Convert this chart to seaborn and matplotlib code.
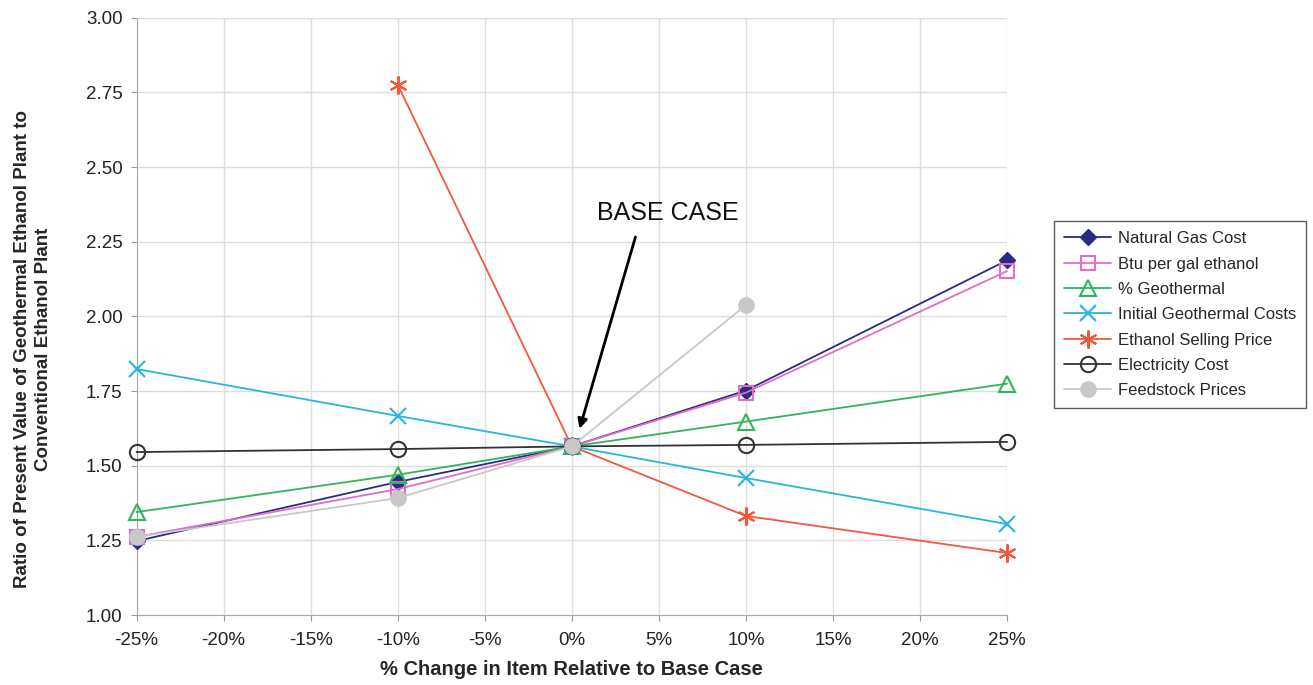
import numpy as np
import pandas as pd
import seaborn as sns
import matplotlib.pyplot as plt
from matplotlib.ticker import FuncFormatter, MultipleLocator

# % change in each item relative to the base case
pct_change = [-25, -10, 0, 10, 25]

natural_gas = [1.248, 1.446, 1.565, 1.752, 2.188]
btu_per_gal = [1.262, 1.422, 1.565, 1.745, 2.152]
pct_geothermal = [1.345, 1.470, 1.565, 1.648, 1.775]
initial_geo_costs = [1.824, 1.667, 1.565, 1.459, 1.305]
ethanol_price = [np.nan, 2.776, 1.565, 1.332, 1.208]
electricity = [1.546, 1.556, 1.565, 1.570, 1.580]
feedstock = [1.262, 1.392, 1.565, 2.038, np.nan]

series_names = ["Natural Gas Cost", "Btu per gal ethanol", "% Geothermal",
                "Initial Geothermal Costs", "Ethanol Selling Price",
                "Electricity Cost", "Feedstock Prices"]
series_values = [natural_gas, btu_per_gal, pct_geothermal, initial_geo_costs,
                 ethanol_price, electricity, feedstock]

# colour, marker, size, filled?
styles = [
    ("#2b2a86", "D", 8.5, True),
    ("#df6ec8", "s", 10, False),
    ("#2fb55a", "^", 11, False),
    ("#27b6dc", "x", 11, False),
    ("#f2583a", (6, 2, 0), 13, False),
    ("#333333", "o", 11, False),
    ("#c8c8c8", "o", 11, True),
]

sns.set_style("whitegrid")
plt.rcParams['font.family'] = ['Liberation Sans', 'DejaVu Sans']

fig = plt.figure(figsize=(13.13, 6.85), dpi=100)
ax = fig.add_axes([0.104, 0.102, 0.663, 0.872])

for name, vals, (col, mk, ms, filled) in zip(series_names, series_values, styles):
    df = pd.DataFrame({"x": pct_change, "y": vals}).dropna()
    sns.lineplot(data=df, x="x", y="y", ax=ax, color=col, lw=1.3,
                 marker=mk, markersize=ms,
                 markerfacecolor=col if filled else "none",
                 markeredgecolor=col, markeredgewidth=1.5 if not filled else 1,
                 label=name, clip_on=False, zorder=3)

ax.set_xlim(-25, 25)
ax.set_ylim(1.0, 3.0)
ax.xaxis.set_major_locator(MultipleLocator(5))
ax.yaxis.set_major_locator(MultipleLocator(0.25))
ax.xaxis.set_major_formatter(FuncFormatter(lambda v, p: f"{v:.0f}%"))
ax.yaxis.set_major_formatter(FuncFormatter(lambda v, p: f"{v:.2f}"))
ax.tick_params(axis="both", labelsize=13.5, colors="#222222", length=4,
               direction="out", left=True, bottom=True, color="#999999")
ax.tick_params(axis="x", pad=8)
ax.tick_params(axis="y", pad=6)
ax.grid(color="#dddddd", lw=1)
for s in ["top", "right"]:
    ax.spines[s].set_visible(False)
for s in ["left", "bottom"]:
    ax.spines[s].set_color("#aaaaaa")

ax.set_xlabel("% Change in Item Relative to Base Case", fontsize=14.5,
              fontweight="bold", labelpad=8)
ax.set_ylabel("Ratio of Present Value of Geothermal Ethanol Plant to\nConventional Ethanol Plant",
              fontsize=13.5, fontweight="bold", linespacing=1.35)
ax.yaxis.set_label_coords(-0.097, 0.445)

ax.annotate("", xy=(0.4, 1.615), xytext=(3.7, 2.275),
            arrowprops=dict(arrowstyle="-|>", color="black", lw=2, mutation_scale=14))
ax.text(5.5, 2.345, "BASE CASE", fontsize=18, ha="center", va="center", color="#111111")

handles, labels = ax.get_legend_handles_labels()
ax.legend_.remove()
leg = fig.legend(handles, labels, loc="upper left", bbox_to_anchor=(0.803, 0.677),
                 fontsize=12, frameon=True, fancybox=False, edgecolor="#333333",
                 handlelength=2.8, labelspacing=0.62, borderpad=0.6, handletextpad=0.4,
                 borderaxespad=0)
leg.get_frame().set_linewidth(1)

fig.savefig("out.png", dpi=100)
